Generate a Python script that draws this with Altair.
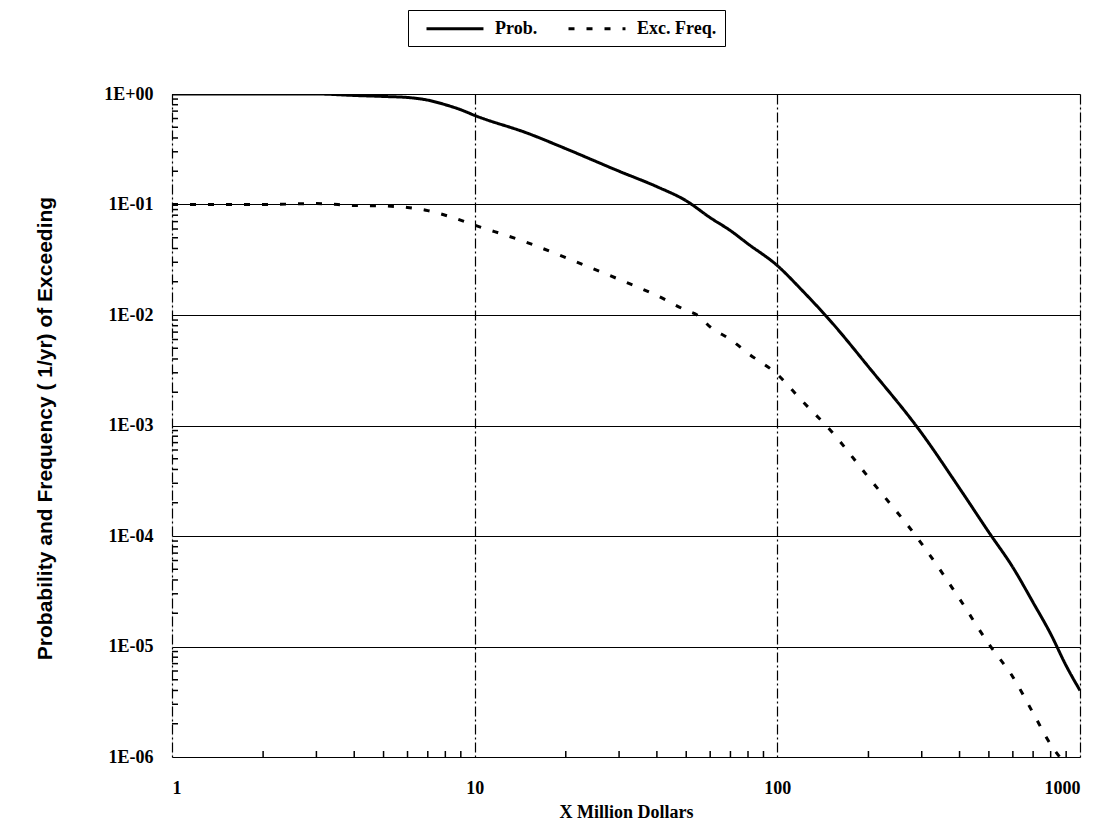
import altair as alt
import pandas as pd

# ---- data ----
prob_x = [1, 2, 3, 4, 5, 6, 7, 8, 9, 10, 15, 20, 30, 40, 50, 60, 70, 80, 100, 120,
          150, 200, 300, 400, 500, 600, 700, 800, 900, 1000]
prob_y = [1.0, 1.0, 1.0, 0.97, 0.95, 0.93, 0.88, 0.80, 0.72, 0.64, 0.44, 0.32, 0.20,
          0.145, 0.108, 0.076, 0.058, 0.044, 0.028, 0.017, 0.0088, 0.0034, 0.00085,
          0.00027, 0.000108, 0.000052, 0.000025, 0.000013, 0.0000067, 0.0000040]

freq_x = [1, 2, 3, 4, 5, 6, 7, 8, 10, 15, 20, 30, 40, 50, 55, 60, 70, 80, 100, 120,
          150, 200, 300, 400, 500, 600, 700, 800, 870]
freq_y = [0.10, 0.10, 0.102, 0.098, 0.097, 0.094, 0.088, 0.080, 0.065, 0.045, 0.033,
          0.021, 0.015, 0.011, 0.0098, 0.0078, 0.0060, 0.0045, 0.0029, 0.0017, 0.0009,
          0.00034, 0.000085, 0.000027, 0.0000105, 0.0000053, 0.0000025, 0.0000013,
          0.00000095]

series_names = ["Prob.", "Exc. Freq."]

x_major = [1, 10, 100, 1000]
y_major = [1e-6, 1e-5, 1e-4, 1e-3, 1e-2, 1e-1, 1]
x_minor = [2, 3, 4, 5, 6, 7, 8, 9, 20, 30, 40, 50, 60, 70, 80, 90,
           200, 300, 400, 500, 600, 700, 800, 900]
y_minor_mult = [2, 3, 4, 5, 6, 7, 8, 9]

# ---- tables ----
df = pd.concat([
    pd.DataFrame({"x": prob_x, "y": prob_y, "series": series_names[0]}),
    pd.DataFrame({"x": freq_x, "y": freq_y, "series": series_names[1]}),
], ignore_index=True)

y_minor = [m * d for d in y_major[:-1] for m in y_minor_mult]
xm_df = pd.DataFrame({"x": x_minor})
ym_df = pd.DataFrame({"y": y_minor})

W, H = 908, 663
SERIF = "Liberation Serif"
SANS = "Liberation Sans"

xscale = alt.Scale(type="log", domain=[1, 1000], nice=False)
yscale = alt.Scale(type="log", domain=[1e-6, 1], nice=False)

x_axis = alt.Axis(
    values=x_major, format="d", grid=True, gridColor="black", gridWidth=1.2,
    gridDash=[10, 3, 2, 3], ticks=False, domain=False, labelPadding=22,
    labelFont=SERIF, labelFontSize=18, labelFontWeight="bold", labelColor="black",
    title="X Million Dollars", titleFont=SERIF, titleFontSize=18,
    titleFontWeight="bold", titleColor="black", titleY=55, titleBaseline="middle",
)
y_axis = alt.Axis(
    values=y_major, grid=True, gridColor="black", gridWidth=1.2, ticks=False,
    domain=False, labelPadding=19,
    labelExpr="datum.value >= 1 ? '1E+00' : '1E-0' + round(-log(datum.value)/LN10)",
    labelFont=SERIF, labelFontSize=18, labelFontWeight="bold", labelColor="black",
    title="Probability and Frequency ( 1/yr) of Exceeding", titleFont=SANS,
    titleFontSize=21, titleFontWeight="bold", titleColor="black",
    titleAngle=270, titleX=-127, titleY=334, titleAlign="center",
    titleBaseline="middle",
)

lines = alt.Chart(df).mark_line(
    clip=True, strokeWidth=3, color="black", interpolate="monotone"
).encode(
    x=alt.X("x:Q", scale=xscale, axis=x_axis),
    y=alt.Y("y:Q", scale=yscale, axis=y_axis),
    strokeDash=alt.StrokeDash(
        "series:N",
        scale=alt.Scale(domain=series_names, range=[[1, 0], [6, 12]]),
        legend=alt.Legend(
            title=None, orient="none", legendX=236, legendY=-84,
            direction="horizontal", symbolType="M0,0H6.33", symbolSize=324,
            symbolStrokeWidth=3, symbolStrokeColor="black",
            labelFont=SERIF, labelFontSize=18, labelFontWeight="bold",
            labelColor="black", labelOffset=58, columnPadding=20,
            strokeColor="black", padding=8, fillColor="white",
        ),
    ),
    order="x:Q",
)

xminor = alt.Chart(xm_df).mark_rule(color="black", strokeWidth=1.5).encode(
    x=alt.X("x:Q", scale=xscale),
    y=alt.value(H), y2=alt.value(H - 6),
)
yminor = alt.Chart(ym_df).mark_rule(color="black", strokeWidth=1.5).encode(
    y=alt.Y("y:Q", scale=yscale),
    x=alt.value(0), x2=alt.value(6),
)

chart = alt.layer(lines, xminor, yminor).properties(
    width=W, height=H,
    autosize=alt.AutoSizeParams(type="none"),
    padding={"left": 164, "top": 86, "right": 10, "bottom": 75},
).configure_view(stroke="black", strokeWidth=2).configure(background="white")

chart.save("out.html", embed_options={"renderer": "svg", "actions": False})
